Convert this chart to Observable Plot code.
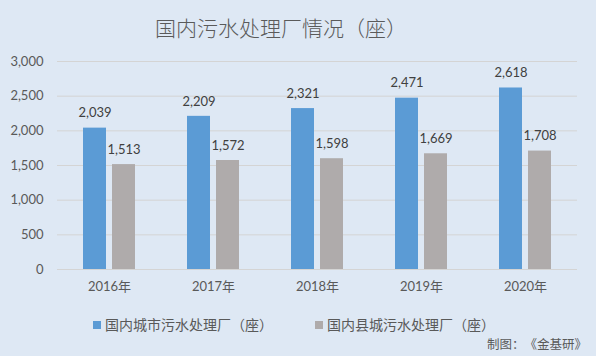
<!DOCTYPE html>
<html>
<head>
<meta charset="utf-8">
<script src="https://cdn.jsdelivr.net/npm/d3@7"></script>
<script src="https://cdn.jsdelivr.net/npm/@observablehq/plot@0.6"></script>
<style>
  html, body { margin: 0; padding: 0; }
  body { width: 596px; height: 356px; background: #dee8f4; position: relative; overflow: hidden;
         font-family: Lato, "Noto Sans CJK SC", sans-serif; color: #595959; text-spacing-trim: space-all; }
  #title { position: absolute; left: 0; top: 12px; width: 562px; text-align: center;
           font-family: "Noto Sans CJK SC", sans-serif; font-size: 21px; font-weight: 300; line-height: 30px; color: #5a5a5a; }
  #chart { position: absolute; left: 0; top: 45px; }
  .leg { position: absolute; top: 314px; font-family: "Noto Sans CJK SC", sans-serif; font-size: 14px;
         line-height: 20px; color: #595959; white-space: nowrap; }
  .sw { display: inline-block; width: 8px; height: 8px; margin-right: 4px; vertical-align: 1px; }
  #caption { position: absolute; right: 9px; top: 335px; font-family: "Noto Sans CJK SC", sans-serif;
             font-size: 12.5px; line-height: 18px; color: #595959; }
</style>
</head>
<body>
<div id="title">国内污水处理厂情况（座）</div>
<div id="chart"></div>
<div id="legend"></div>
<div id="caption">制图：《金基研》</div>
<script>
const years = ["2016", "2017", "2018", "2019", "2020"];
const seriesNames = ["国内城市污水处理厂（座）", "国内县城污水处理厂（座）"];
const cityPlants = [2039, 2209, 2321, 2471, 2618];
const countyPlants = [1513, 1572, 1598, 1669, 1708];
const seriesColors = ["#5b9bd5", "#afabab"];
const yTicks = [0, 500, 1000, 1500, 2000, 2500, 3000];

const data = years.flatMap((y, i) => [
  {year: y, series: seriesNames[0], value: cityPlants[i]},
  {year: y, series: seriesNames[1], value: countyPlants[i]}
]);
const fmt = d3.format(",");

const chart = Plot.plot({
  width: 596,
  height: 260,
  marginLeft: 56,
  marginRight: 17.5,
  marginTop: 16,
  marginBottom: 36,
  style: {background: "transparent", fontFamily: "Lato, 'Noto Sans CJK SC', sans-serif", fontSize: "13px", color: "#595959"},
  fx: {domain: years, padding: 0, label: null, axis: "bottom", tickFormat: d => d + "年", tickSize: 0, tickPadding: 12},
  x: {domain: seriesNames, axis: null, paddingInner: 0.2, paddingOuter: 0.88},
  y: {domain: [0, 3000], ticks: yTicks, tickFormat: fmt, tickSize: 0, tickPadding: 14, label: null},
  color: {domain: seriesNames, range: seriesColors},
  marks: [
    Plot.ruleY(yTicks, {stroke: "#d4d4d4", strokeWidth: 1}),
    Plot.barY(data, {fx: "year", x: "series", y: "value", fill: "series"}),
    Plot.text(data, {fx: "year", x: "series", y: "value", text: d => fmt(d.value), dy: -15, fill: "#404040", fontSize: 13})
  ]
});
document.getElementById("chart").appendChild(chart);

const legendPos = [93, 315];
const legend = document.getElementById("legend");
seriesNames.forEach((name, i) => {
  const item = document.createElement("div");
  item.className = "leg";
  item.style.left = legendPos[i] + "px";
  item.innerHTML = `<span class="sw" style="background:${seriesColors[i]}"></span>${name}`;
  legend.appendChild(item);
});
</script>
</body>
</html>
